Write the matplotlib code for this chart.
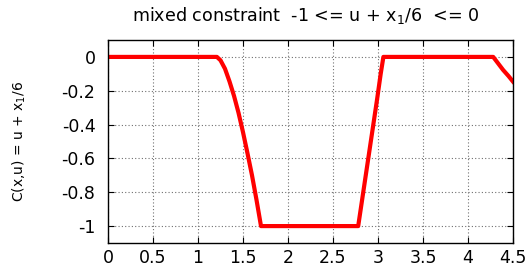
import matplotlib
matplotlib.use("Agg")
import matplotlib.pyplot as plt

plt.rcParams['font.family'] = ['DejaVu Sans']
plt.rcParams['mathtext.default'] = 'regular'

# values
x = [0.0, 1.21, 1.25, 1.30, 1.35, 1.40, 1.45, 1.50, 1.55, 1.60, 1.65, 1.70,
     2.78, 2.85, 2.92, 2.99, 3.03, 3.06,
     4.28, 4.33, 4.39, 4.45, 4.50]
c = [0.0, 0.0, -0.02, -0.07, -0.145, -0.23, -0.33, -0.445, -0.57, -0.70, -0.845, -1.0,
     -1.0, -0.75, -0.50, -0.25, -0.10, 0.0,
     0.0, -0.035, -0.077, -0.113, -0.146]

xticks = [0, 0.5, 1, 1.5, 2, 2.5, 3, 3.5, 4, 4.5]
xtick_labels = ['0', '0.5', '1', '1.5', '2', '2.5', '3', '3.5', '4', '4.5']
yticks = [0, -0.2, -0.4, -0.6, -0.8, -1]
ytick_labels = ['0', '-0.2', '-0.4', '-0.6', '-0.8', '-1']

fig = plt.figure(figsize=(5.31, 2.64), dpi=100)
ax = fig.add_axes([108/531, 1 - 243/264, 405/531, 203/264])

ax.plot(x, c, color='#ff0000', lw=3.0)
ax.set_xlim(0, 4.5)
ax.set_ylim(-1.1, 0.1)
ax.set_xticks(xticks)
ax.set_xticklabels(xtick_labels)
ax.set_yticks(yticks)
ax.set_yticklabels(ytick_labels)
ax.tick_params(direction='in', length=4, width=0.8, labelsize=12.5,
               top=True, right=True)
ax.tick_params(axis='x', pad=4)
ax.tick_params(axis='y', pad=9)
ax.grid(True, color='#707070', linestyle=(0, (1, 2)), lw=0.8)
for s in ax.spines.values():
    s.set_linewidth(1.0)

ax.set_ylabel('C(x,u) = u + x$_1$/6', fontsize=10, labelpad=24)
fig.text(306/531, 1 - 16/264, 'mixed constraint  -1 <= u + x$_1$/6  <= 0',
         ha='center', va='center', fontsize=12.6)

fig.savefig('out.png', dpi=100)
